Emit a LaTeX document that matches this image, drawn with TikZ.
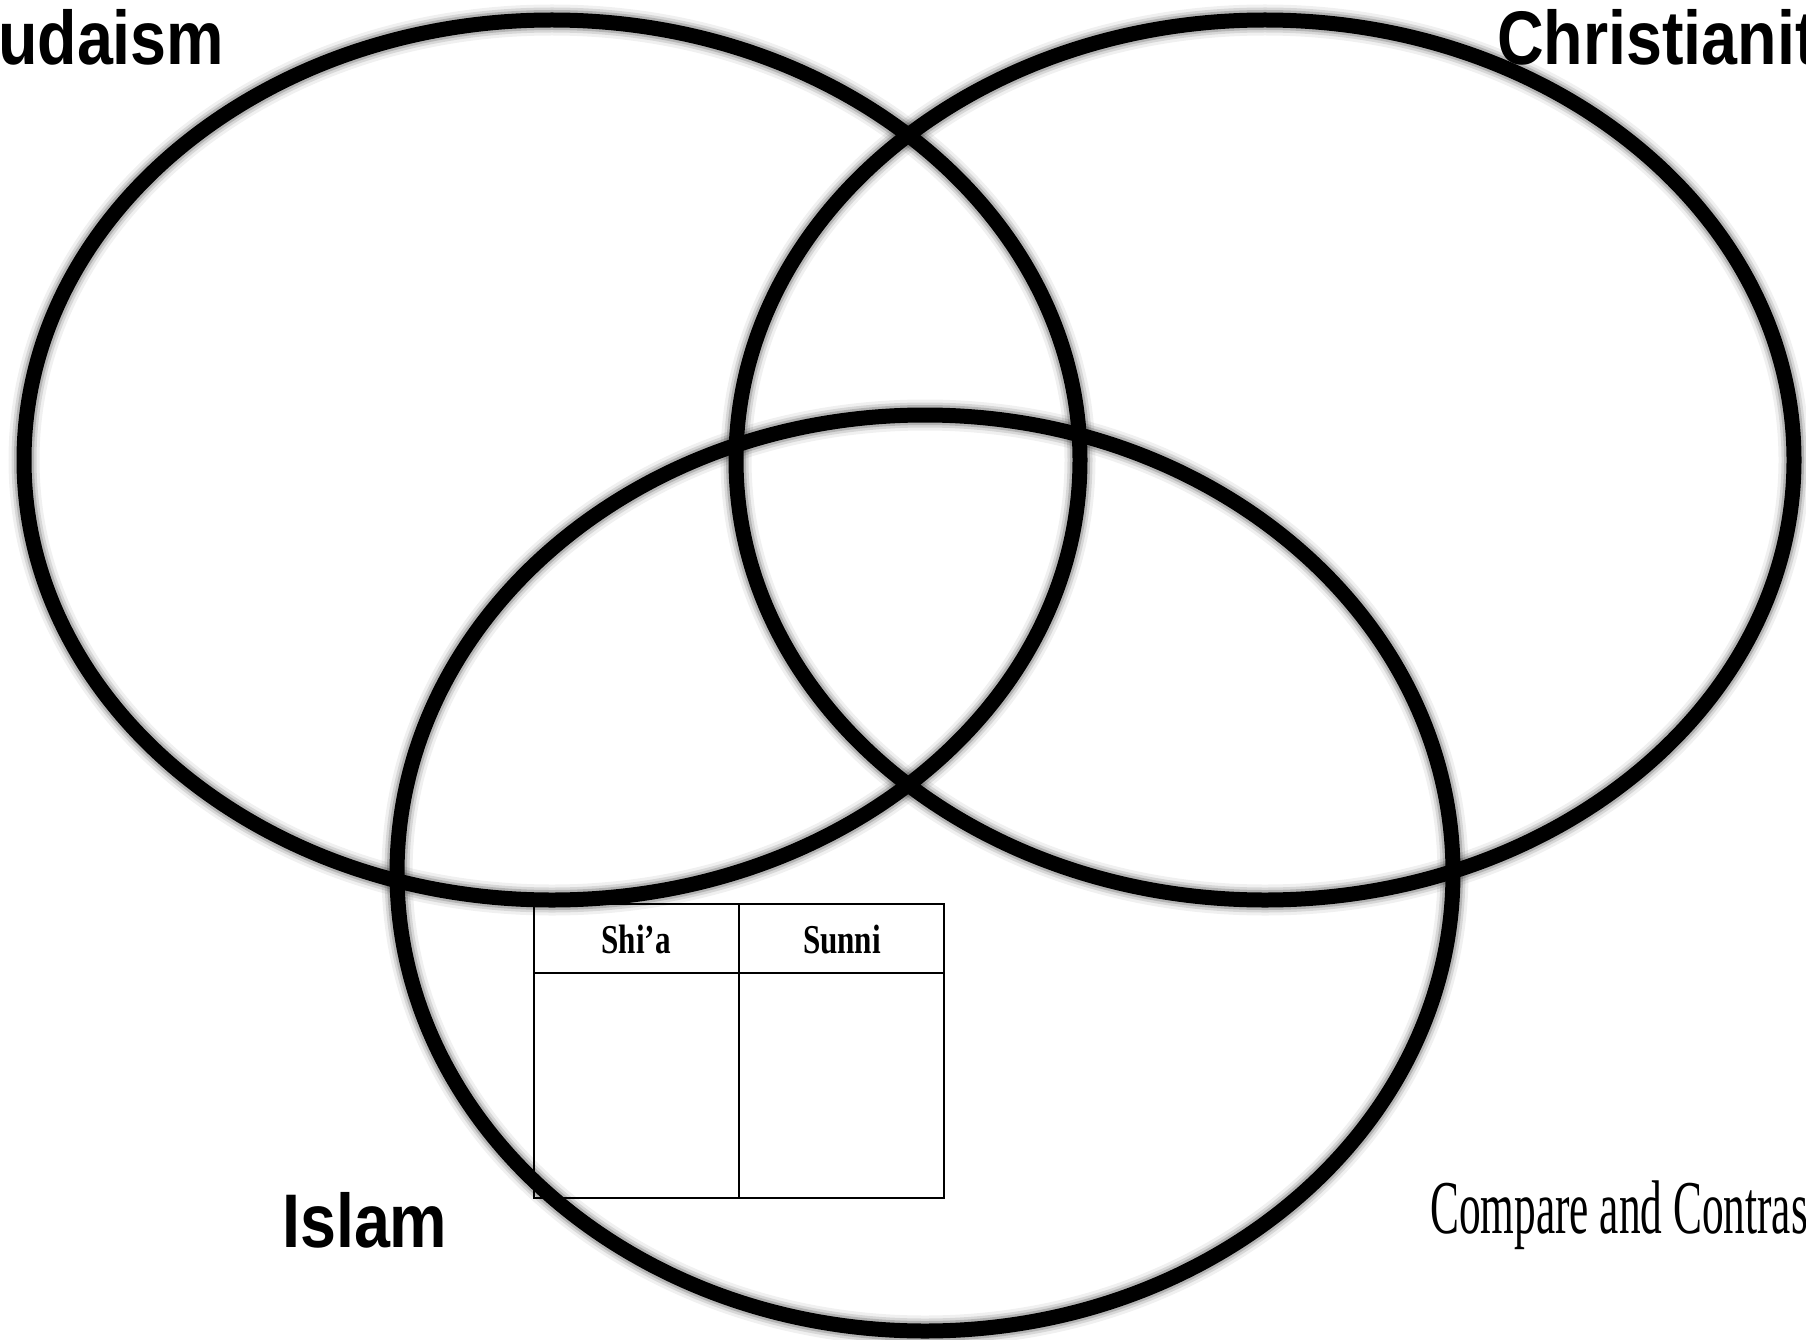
\documentclass[tikz,border=0pt]{standalone}
\usepackage{fontspec}
\setmainfont{Liberation Serif}
\newfontfamily\groupfont[FakeStretch=0.85]{Liberation Sans}
\newfontfamily\headfont[FakeStretch=0.76]{Liberation Serif}
\newfontfamily\notefont[FakeStretch=0.57]{Liberation Serif}
\usetikzlibrary{positioning}

\begin{document}
\begin{tikzpicture}[
  x=1pt, y=-1pt,
  ring/.style={draw=black, line width=15pt},
  glow/.style={draw=black, draw opacity=#1},
  cell/.style={draw=black, line width=2.5pt},
  group/.style={inner sep=0pt, anchor=base west, font=\groupfont\bfseries\fontsize{76}{80}\selectfont},
  head/.style={inner sep=0pt, anchor=base, font=\headfont\bfseries\fontsize{41}{44}\selectfont},
  note/.style={inner sep=0pt, anchor=base west, font=\notefont\fontsize{76}{80}\selectfont}
]
  \useasboundingbox (0,0) rectangle (1806,1340);
  \clip (0,0) rectangle (1806,1340);
  \fill[white] (0,0) rectangle (1806,1340);

  % Table
  \draw[cell] (534,904) rectangle (944,1198);
  \draw[cell] (534,973) -- (944,973);
  \draw[cell] (739,904) -- (739,1198);
  \node[head] (shia) at (636,953) {Shi’a};
  \node[head] (sunni) at (842,953) {Sunni};

  % Soft shadow under the rings
  \foreach \w/\o in {31/0.06, 25/0.10, 20/0.16} {
    \draw[glow=\o, line width=\w pt] (552,460) ellipse [x radius=528, y radius=440];
    \draw[glow=\o, line width=\w pt] (1265,460) ellipse [x radius=529, y radius=440];
    \draw[glow=\o, line width=\w pt] (925,873) ellipse [x radius=528, y radius=458];
  }

  % Rings
  \draw[ring] (552,460) ellipse [x radius=528, y radius=440];
  \draw[ring] (1265,460) ellipse [x radius=529, y radius=440];
  \draw[ring] (925,873) ellipse [x radius=528, y radius=458];

  % Labels
  \node[group] (judaism) at (-38,65) {Judaism};
  \node[group] (christianity) at (1497,65) {Christianity};
  \node[group] (islam) at (282,1247) {Islam};
  \node[note] (compare) at (1430,1233) {Compare and Contrast};
\end{tikzpicture}
\end{document}
